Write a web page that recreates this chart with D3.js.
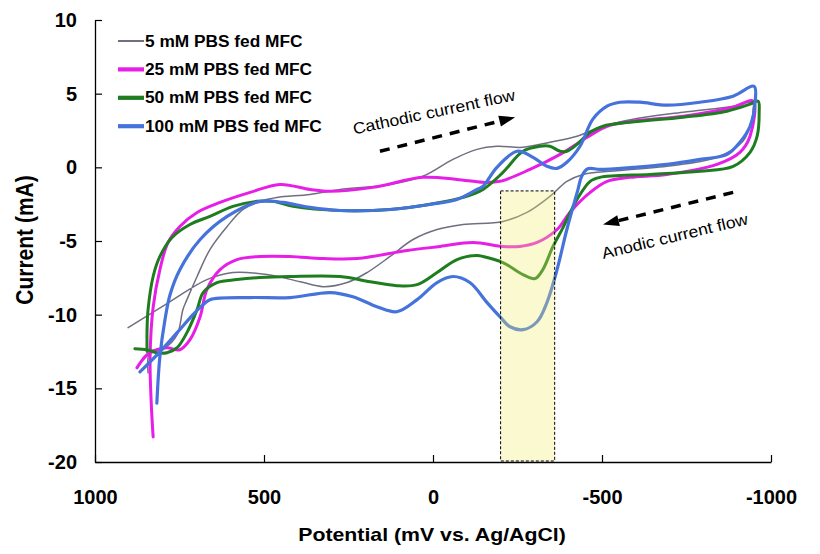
<!DOCTYPE html>
<html>
<head>
<meta charset="utf-8">
<script src="https://cdn.jsdelivr.net/npm/d3@7"></script>
<style>
  html, body { margin: 0; padding: 0; background: #fff; }
  svg { display: block; }
  text { font-family: Arial, "Liberation Sans", sans-serif; }
</style>
</head>
<body>
<svg id="chart" width="820" height="554"></svg>
<script>
// ---- data (potential mV, current mA), traced in scan order ----
const potentialTicks = [1000, 500, 0, -500, -1000];
const currentTicks = [-20, -15, -10, -5, 0, 5, 10];
const seriesNames = ["5 mM PBS fed MFC", "25 mM PBS fed MFC", "50 mM PBS fed MFC", "100 mM PBS fed MFC"];

const pbs5 = [
  [843,-13.95],[837,-12.52],[793,-12.24],[757,-11.36],[740,-9.66],[728,-8.98],[698,-7.41],[660,-5.58],
  [609,-4.01],[562,-2.86],[512,-2.31],[462,-2.04],[364,-1.84],[275,-1.5],[127,-1.16],[30,-0.61],
  [-59,0.54],[-130,1.22],[-189,1.43],[-266,1.36],[-346,1.7],[-426,2.11],[-494,2.72],[-592,3.27],
  [-740,3.74],[-888,4.15],[-947,4.42],
  [-947,3.95],[-944,3.27],[-917,1.77],[-840,0.68],[-692,0.07],[-485,-0.34],[-444,-0.48],[-396,-0.95],
  [-346,-1.97],[-278,-3.06],[-207,-3.67],[-89,-3.88],[-12,-4.22],[59,-4.9],[127,-6.05],[195,-7.14],
  [254,-7.82],[325,-8.1],[393,-7.76],[491,-7.28],[592,-7.14],[669,-7.62],[787,-9.25],[902,-10.88]
];
const pbs25 = [
  [828,-18.3],[834,-15.8],[837,-12.86],[828,-9.5],[808,-6.94],[784,-5.1],[749,-4.01],[698,-3.06],
  [630,-2.38],[541,-1.7],[453,-1.16],[364,-1.5],[305,-1.63],[178,-1.36],[30,-0.68],[-71,-0.82],
  [-148,-1.02],[-198,-0.95],[-287,-0.14],[-376,0.88],[-456,2.04],[-515,2.79],[-592,3.13],[-740,3.47],
  [-888,4.08],[-947,4.49],
  [-938,2.11],[-908,1.02],[-840,0.2],[-692,-0.48],[-583,-0.68],[-515,-0.95],[-465,-1.7],[-405,-3.06],
  [-367,-4.22],[-308,-5.1],[-257,-5.37],[-207,-5.37],[-118,-5.1],[-21,-5.37],[77,-5.65],[225,-6.19],
  [325,-6.19],[423,-6.05],[512,-6.05],[580,-6.26],[630,-6.94],[669,-8.3],[689,-10.14],[719,-11.7],
  [749,-12.38],[787,-12.24],[817,-12.38],[846,-12.72],[876,-13.61]
];
const pbs50 = [
  [846,-12.5],[846,-11.0],[843,-9.66],[828,-7.41],[808,-6.05],[772,-4.76],[719,-3.88],[660,-3.33],
  [592,-2.65],[521,-2.31],[473,-2.31],[414,-2.65],[275,-2.93],[127,-2.86],[-21,-2.38],[-89,-2.04],
  [-148,-1.5],[-207,-0.34],[-266,1.09],[-317,1.43],[-346,1.43],[-376,1.09],[-396,1.09],[-426,1.56],
  [-465,2.38],[-503,2.79],[-583,3.06],[-740,3.4],[-870,3.81],[-938,4.29],[-962,4.49],
  [-965,3.74],[-959,2.11],[-938,1.02],[-888,0.07],[-790,-0.27],[-642,-0.48],[-494,-0.68],[-465,-0.95],
  [-426,-2.18],[-396,-3.54],[-385,-4.08],[-355,-5.37],[-325,-6.94],[-302,-7.55],[-266,-7.28],[-207,-6.46],
  [-148,-6.05],[-130,-5.99],[-71,-6.26],[-12,-7.14],[47,-7.96],[107,-8.03],[186,-7.76],[275,-7.41],
  [423,-7.41],[512,-7.48],[580,-7.62],[639,-7.82],[680,-8.5],[698,-9.66],[728,-11.22],[757,-12.24],
  [787,-12.59],[817,-12.59],[846,-12.38],[882,-12.31]
];
const pbs100 = [
  [817,-16.0],[808,-12.85],[793,-10.35],[778,-8.65],[749,-6.95],[689,-4.9],[609,-3.33],[512,-2.31],
  [444,-2.38],[364,-2.72],[275,-2.93],[127,-2.86],[9,-2.52],[-71,-2.18],[-130,-1.5],[-148,-1.29],
  [-189,0],[-249,1.09],[-296,0.68],[-337,0.07],[-367,-0.07],[-396,0.34],[-435,1.43],[-473,3.27],
  [-515,4.15],[-553,4.42],[-612,4.42],[-692,4.22],[-790,4.42],[-888,4.83],[-950,5.5],
  [-953,4.42],[-938,2.79],[-908,1.7],[-870,0.88],[-790,0.54],[-692,0.2],[-592,0],[-494,-0.14],
  [-458,-0.1],[-440,-0.6],[-429,-1.5],[-396,-4.22],[-367,-6.94],[-337,-9.18],[-308,-10.48],[-266,-11.02],
  [-228,-10.82],[-198,-10.14],[-160,-9.18],[-109,-7.82],[-59,-7.41],[-12,-7.82],[47,-8.98],[107,-9.8],
  [166,-9.46],[237,-8.78],[305,-8.5],[423,-8.84],[541,-8.84],[660,-8.98],[680,-9.32],[710,-10.0],
  [757,-11.22],[808,-12.52],[867,-13.88]
];

// highlighted potential window and annotations (data units)
const highlightPotential = [-200, -360];
const highlightCurrent = [-1.6, -20];
const cathodicArrow = [[157, 1.09], [-243, 3.40]];
const anodicArrow = [[-888, -1.70], [-503, -3.88]];
const annotationTexts = ["Cathodic current flow", "Anodic current flow"];
const annotationAnchors = [[-6, 3.4], [-719, -5.03]];

// ---- styles ----
const seriesColors = ["#6f6f82", "#e61ee6", "#1e7d1e", "#4573db"];
const seriesWidths = [1.5, 3, 3, 3.2];
const series = [pbs5, pbs25, pbs50, pbs100];

const svg = d3.select("#chart");
const x = d3.scaleLinear().domain([1000, -1000]).range([95, 771]);
const y = d3.scaleLinear().domain([-20, 10]).range([462, 20]);

function stretch(sel, k) {
  sel.each(function () {
    const L = this.getComputedTextLength();
    d3.select(this).attr("textLength", L * k).attr("lengthAdjust", "spacingAndGlyphs");
  });
}

// curves
const line = d3.line().x(d => x(d[0])).y(d => y(d[1])).curve(d3.curveCatmullRom.alpha(0.5));
svg.append("g").selectAll("path").data(series).join("path")
  .attr("d", line)
  .attr("fill", "none")
  .attr("stroke", (d, i) => seriesColors[i])
  .attr("stroke-width", (d, i) => seriesWidths[i])
  .attr("stroke-linejoin", "round")
  .attr("stroke-linecap", "round");

// highlight box (drawn over the curves, translucent)
svg.append("rect")
  .attr("x", x(highlightPotential[0]))
  .attr("y", y(highlightCurrent[0]))
  .attr("width", x(highlightPotential[1]) - x(highlightPotential[0]))
  .attr("height", y(highlightCurrent[1]) - y(highlightCurrent[0]) - 1)
  .attr("fill", "#f2ec6e")
  .attr("fill-opacity", 0.32)
  .attr("stroke", "#000")
  .attr("stroke-width", 1)
  .attr("stroke-dasharray", "3,2");

// axes
const fmt = d => String(d);
const yAxis = d3.axisLeft(y).tickValues(currentTicks).tickFormat(fmt)
  .tickSizeInner(-7).tickSizeOuter(0).tickPadding(18);
const xAxis = d3.axisBottom(x).tickValues(potentialTicks).tickFormat(fmt)
  .tickSizeInner(-7).tickSizeOuter(0).tickPadding(28);

const gy = svg.append("g").attr("transform", "translate(95,0)").call(yAxis);
const gx = svg.append("g").attr("transform", "translate(0,462)").call(xAxis);
[gx, gy].forEach(g => {
  g.select(".domain").attr("stroke", "#000").attr("stroke-width", 1.3);
  g.selectAll(".tick line").attr("stroke", "#000").attr("stroke-width", 1.2);
  g.selectAll(".tick text").attr("fill", "#000")
    .style("font-family", "Arial, 'Liberation Sans', sans-serif")
    .style("font-size", "20px").style("font-weight", "bold");
});

// axis titles
svg.append("text")
  .attr("x", 432).attr("y", 541)
  .attr("text-anchor", "middle")
  .style("font-size", "19px").style("font-weight", "bold")
  .text("Potential (mV vs. Ag/AgCl)")
  .call(stretch, 1.12);

svg.append("text")
  .attr("transform", "translate(33,240) rotate(-90) scale(1,1.12)")
  .attr("text-anchor", "middle")
  .style("font-size", "21px").style("font-weight", "bold")
  .text("Current (mA)");

// legend
const legend = svg.append("g");
seriesNames.forEach((name, i) => {
  const ly = 41 + i * 28.4;
  legend.append("line")
    .attr("x1", 118).attr("x2", 144).attr("y1", ly).attr("y2", ly)
    .attr("stroke", seriesColors[i])
    .attr("stroke-width", i === 0 ? 2 : 4.2);
  legend.append("text")
    .attr("x", 145).attr("y", ly).attr("dy", "0.35em")
    .style("font-size", "16px").style("font-weight", "bold")
    .text(name)
    .call(stretch, 1.08);
});

// annotation arrows
function arrow(pts) {
  const x0 = x(pts[0][0]), y0 = y(pts[0][1]);
  const x1 = x(pts[1][0]), y1 = y(pts[1][1]);
  const dx = x1 - x0, dy = y1 - y0, L = Math.hypot(dx, dy);
  const ux = dx / L, uy = dy / L, head = 16, hw = 5.5;
  const bx = x1 - ux * head, by = y1 - uy * head;
  svg.append("line")
    .attr("x1", x0).attr("y1", y0).attr("x2", bx + ux * 2).attr("y2", by + uy * 2)
    .attr("stroke", "#000").attr("stroke-width", 3.5)
    .attr("stroke-dasharray", "10,8");
  svg.append("path")
    .attr("d", `M${x1},${y1}L${bx - uy * hw},${by + ux * hw}L${bx + uy * hw},${by - ux * hw}Z`)
    .attr("fill", "#000");
}
arrow(cathodicArrow);
arrow(anodicArrow);

const angles = [-12, -13.5];
annotationTexts.forEach((t, i) => {
  const [ax, ay] = annotationAnchors[i];
  svg.append("text")
    .attr("transform", `translate(${x(ax)},${y(ay)}) rotate(${angles[i]})`)
    .attr("text-anchor", "middle")
    .style("font-size", "16px")
    .attr("fill", "#000")
    .text(t)
    .call(stretch, 1.1);
});
</script>
</body>
</html>
